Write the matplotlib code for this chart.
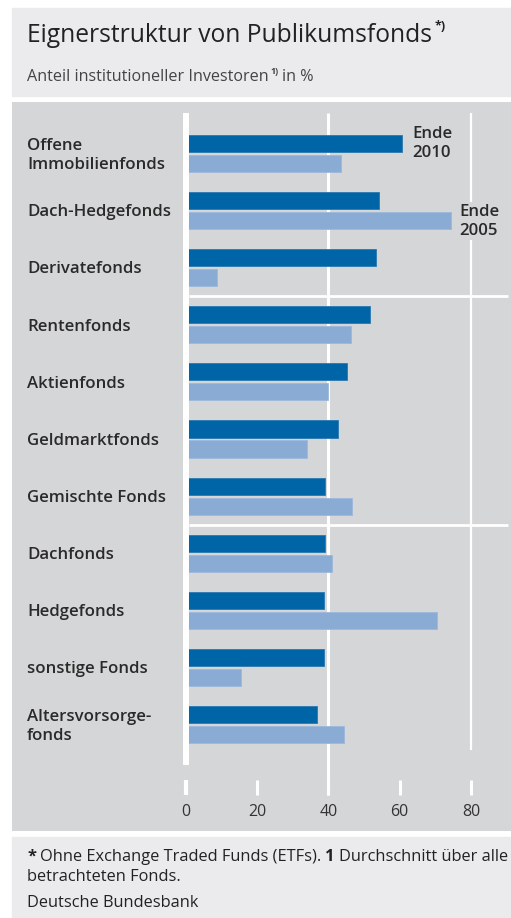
import numpy as np
import matplotlib.pyplot as plt
from matplotlib.patches import Rectangle
import matplotlib.transforms as mtransforms

plt.rcParams['font.family'] = ['Open Sans', 'DejaVu Sans']

# Daten (Anteil institutioneller Investoren in %)
categories = ["Offene\nImmobilienfonds", "Dach-Hedgefonds", "Derivatefonds",
              "Rentenfonds", "Aktienfonds", "Geldmarktfonds", "Gemischte Fonds",
              "Dachfonds", "Hedgefonds", "sonstige Fonds", "Altersvorsorge-\nfonds"]
end_2010 = [60.6, 54.1, 53.3, 51.7, 45.3, 42.6, 39.0, 39.0, 38.7, 38.7, 36.9]
end_2005 = [43.6, 74.4, 8.7, 46.5, 39.9, 34.1, 46.6, 41.0, 70.4, 15.5, 44.3]
xticks = [0, 20, 40, 60, 80]
separators = [2.5, 6.5]

W, H = 511, 918
dark = '#0065a6'
light = '#8aabd3'
panel = '#d5d6d8'
head = '#ebebed'
txt = '#222222'

fig = plt.figure(figsize=(W / 100, H / 100), dpi=100)
fig.patch.set_facecolor('white')


def fx(x):
    return x / W


def fy(y):
    return 1 - y / H


# backgrounds
fig.patches.append(Rectangle((fx(12), fy(96)), fx(W - 12), (96 - 8) / H,
                             transform=fig.transFigure, color=head, zorder=-5))
fig.patches.append(Rectangle((fx(12), 0), fx(W - 12), (918 - 837) / H,
                             transform=fig.transFigure, color=head, zorder=-5))

# chart axes spanning the grey panel
ax = fig.add_axes([fx(12), fy(831), fx(W - 12), (831 - 102) / H])
ax.set_facecolor(panel)
x0, sx = 185.7, 3.565
ax.set_xlim((12 - x0) / sx, (W - x0) / sx)
c0, sy = 153.5, 57.1
ax.set_ylim((831 - c0) / sy, (102 - c0) / sy)
for s in ax.spines.values():
    s.set_visible(False)
ax.set_xticks([])
ax.set_yticks([])


def dy(y):
    return (y - c0) / sy


pos = np.arange(len(categories))
ax.barh(pos - 0.175, end_2010, height=0.3, color=dark, edgecolor='#2a78b3',
        linewidth=0.6, zorder=3)
ax.barh(pos + 0.175, end_2005, height=0.3, color=light, edgecolor='#9cb8dc',
        linewidth=0.6, zorder=3)

# grid lines
ax.vlines(0, dy(113), dy(765), color='white', lw=4.3, zorder=4)
ax.vlines(40, dy(113), dy(795), color='white', lw=2.2, zorder=2)
ax.vlines(80, dy(113), dy(750), color='white', lw=1.6, zorder=2)
for t in xticks:
    ax.vlines(t, dy(780), dy(795), color='white', lw=3 if t == 0 else 2.2,
              zorder=2)
    ax.text(t, dy(812), str(t), ha='center', va='center', fontsize=11.5,
            color='#333333')
for s in separators:
    ax.hlines(s, 0.8, (508 - x0) / sx, color='white', lw=2, zorder=2)

# category labels
lab = mtransforms.blended_transform_factory(fig.transFigure, ax.transData)
for i, c in enumerate(categories):
    ax.text(fx(27), i + 0.03, c, transform=lab, ha='left', va='center',
            fontsize=12.1, fontweight='semibold', color='#2a2a2a',
            linespacing=1.25)

# series labels
ax.text((412 - x0) / sx, dy(143), "Ende\n2010", ha='left', va='center',
        fontsize=12.1, fontweight='semibold', color='#2a2a2a',
        linespacing=1.25, zorder=5)
ax.text((459 - x0) / sx, dy(221), "Ende\n2005", ha='left', va='center',
        fontsize=12.1, fontweight='semibold', color='#2a2a2a',
        linespacing=1.25, zorder=5,
        bbox=dict(facecolor=panel, edgecolor='none', pad=1))

fig.canvas.draw()
rend = fig.canvas.get_renderer()


def put(x, y, s, **kw):
    t = fig.text(fx(x), fy(y), s, **kw)
    bb = t.get_window_extent(rend)
    return bb.x1


# title and subtitle
xe = put(27, 36, "Eignerstruktur von Publikumsfonds", fontsize=17.7,
         color=txt, va='center')
put(xe + 3, 27, "*)", fontsize=9, color=txt, va='center', fontweight='bold')
xe = put(27, 77, "Anteil institutioneller Investoren", fontsize=11.6,
         color='#444444', va='center')
xe = put(xe + 2, 72, "1)", fontsize=6.5, color='#444444', va='center',
         fontweight='bold')
put(xe + 3, 77, "in %", fontsize=11.6, color='#444444', va='center')

# footnote
fs = 11.8
xe = put(27, 857, "*", fontsize=fs, color=txt, va='center', fontweight='bold')
xe = put(xe + 4, 857, "Ohne Exchange Traded Funds (ETFs).", fontsize=fs,
         color=txt, va='center')
xe = put(xe + 4, 857, "1", fontsize=fs, color=txt, va='center',
         fontweight='bold')
put(xe + 4, 857, "Durchschnitt über alle", fontsize=fs, color=txt, va='center')
put(27, 877, "betrachteten Fonds.", fontsize=fs, color=txt, va='center')
put(27, 903, "Deutsche Bundesbank", fontsize=fs, color=txt, va='center')

fig.savefig('out.png', dpi=100, facecolor='white')
